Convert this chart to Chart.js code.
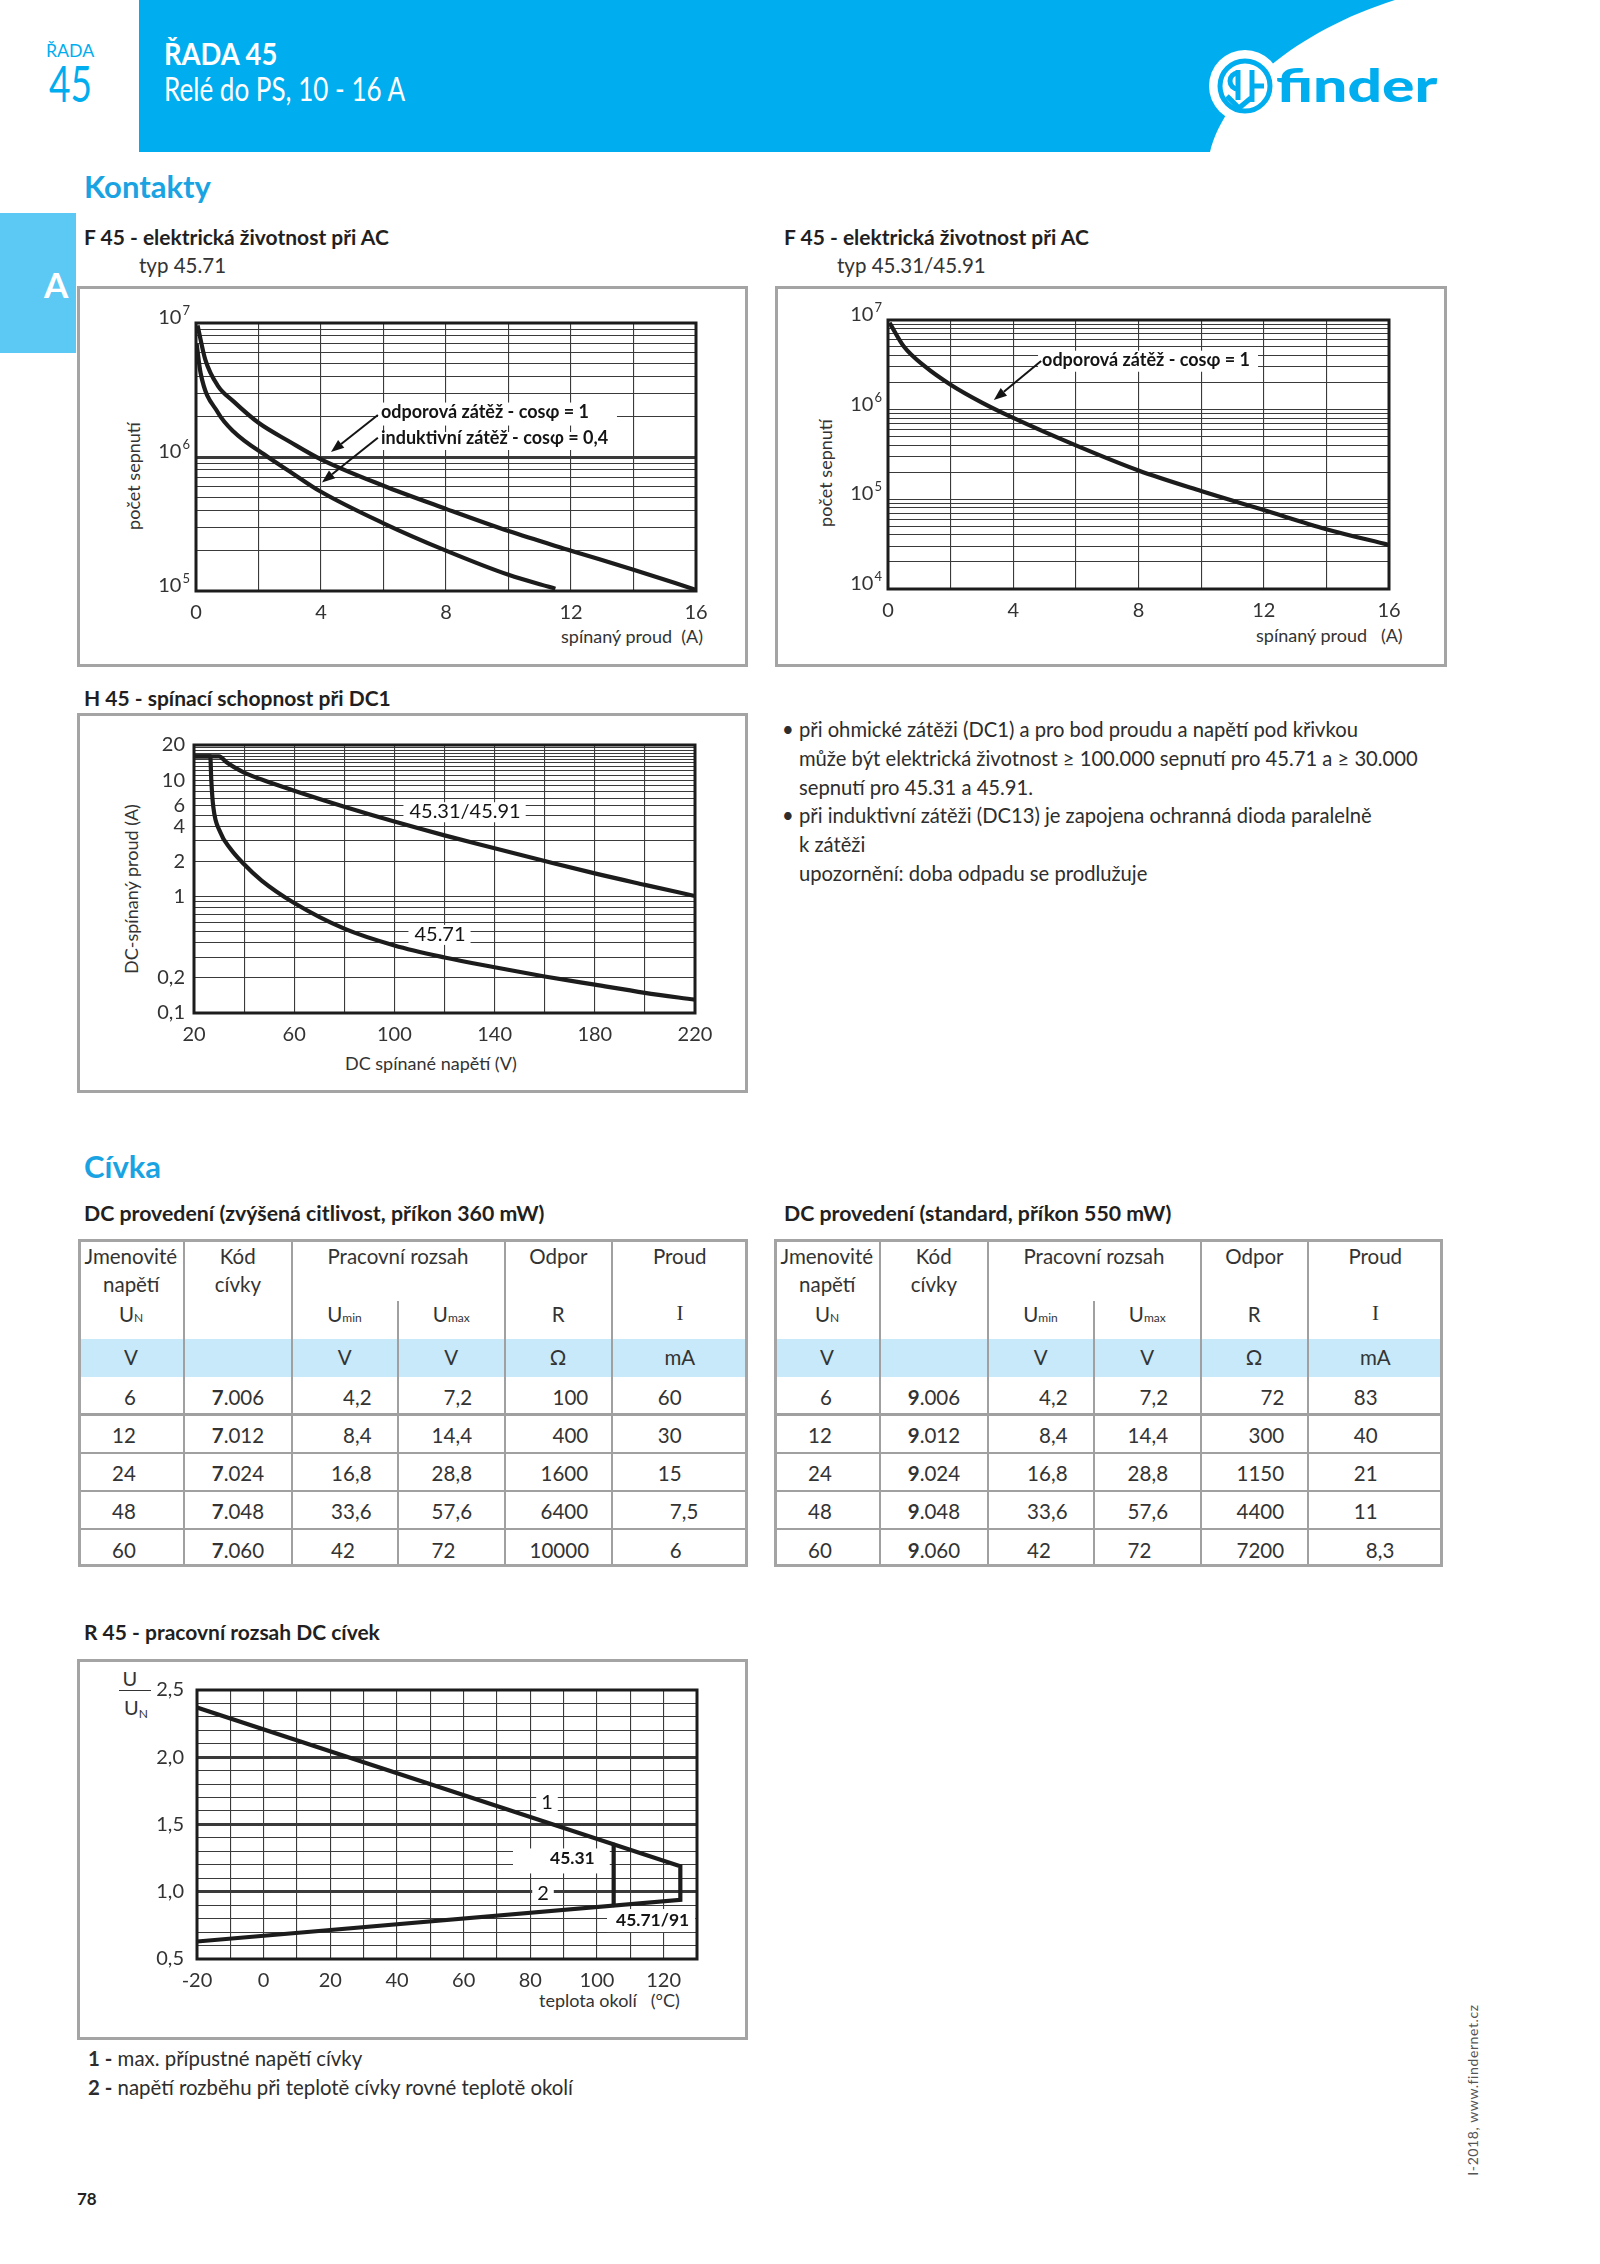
<!DOCTYPE html>
<html>
<head>
<meta charset="utf-8">
<script src="https://cdn.jsdelivr.net/npm/chart.js@4.4.1/dist/chart.umd.min.js"></script>
<style>
html, body { margin: 0; padding: 0; background: #fff; }
#page { position: relative; width: 1600px; height: 2264px; overflow: hidden; font-family: Lato, "Open Sans", sans-serif; color: #231f20; }
.t { position: absolute; white-space: nowrap; }
.box { position: absolute; border: 3px solid #a4a4a4; box-sizing: border-box; }
.ln { position: absolute; background: #a0a0a0; }
canvas { position: absolute; }
</style>
</head>
<body>
<div id="page">
  <svg width="1600" height="160" style="position:absolute;left:0;top:0">
    <path d="M139,0 H1395 C1300,30 1225,90 1210,152 H139 Z" fill="#00aeef"/>
    <circle cx="1245" cy="86" r="36" fill="#fff"/>
    <g fill="none" stroke="#00aeef" stroke-width="5" stroke-linecap="butt">
      <circle cx="1245" cy="86" r="25"/>
      <path d="M1238,70 V100"/>
      <path d="M1238,73 a8,8 0 0 0 0,16"/>
      <path d="M1227,96 L1239,108 L1251,98"/>
      <path d="M1252,70 V102"/>
      <path d="M1252,86 H1264"/>
    </g>
  </svg>
  <div style="position:absolute;left:0;top:213px;width:76px;height:140px;background:#5cc8f4"></div>
</div>
<script>
// F 45 - 45.71, resistive and inductive load
const f1ResCurrent = [0.05, 0.3, 0.7, 1.2, 2, 3, 4, 6, 8, 10, 12, 14, 16];
const f1ResLife = [9.6e6, 5.3e6, 3.4e6, 2.6e6, 1.8e6, 1.3e6, 9.6e5, 6.1e5, 4.1e5, 2.8e5, 2.0e5, 1.44e5, 1.02e5];
const f1IndCurrent = [0.02, 0.15, 0.7, 1.2, 2.3, 3, 4, 6, 8, 10, 11.5];
const f1IndLife = [7.0e6, 4.2e6, 2.15e6, 1.55e6, 1.0e6, 7.8e5, 5.5e5, 3.2e5, 2.0e5, 1.32e5, 1.04e5];
// F 45 - 45.31/45.91
const f2Current = [0.05, 0.5, 1.2, 2, 3, 4, 6, 8, 10, 12, 14, 16];
const f2Life = [9.3e6, 5.1e6, 3.0e6, 1.9e6, 1.2e6, 8.1e5, 4.0e5, 2.1e5, 1.24e5, 7.6e4, 4.65e4, 3.1e4];
// H 45 - DC1 breaking capacity
const h4531V = [20, 30, 33, 36, 40, 47, 60, 80, 100, 120, 140, 160, 180, 200, 220];
const h4531I = [16, 16, 14.2, 12.9, 11.6, 10.1, 8.1, 5.9, 4.4, 3.35, 2.6, 2.02, 1.58, 1.26, 1.01];
const h4571V = [20, 26.5, 26.9, 27.7, 30.4, 34.4, 39.7, 47, 60, 80, 100, 120, 140, 160, 180, 200, 220];
const h4571I = [16, 16, 10, 5.9, 3.6, 2.6, 1.92, 1.37, 0.88, 0.53, 0.38, 0.30, 0.247, 0.206, 0.175, 0.149, 0.13];
// R 45 - coil operating range
const r45Temp = [-20, 125];
const r45MaxU = [2.37, 1.19];
const r45PickU = [0.63, 0.94];
const r4531Temp = [105, 105];
const r4531U = [1.35, 0.90];

// tick labels
const f1XLabels = [0, 4, 8, 12, 16];
const f1YLabels = [1e5, 1e6, 1e7];
const f2YLabels = [1e4, 1e5, 1e6, 1e7];
const h45XLabels = [20, 60, 100, 140, 180, 220];
const h45YLabels = [0.1, 0.2, 1, 2, 4, 6, 10, 20];
const r45XLabels = [-20, 0, 20, 40, 60, 80, 100, 120];
const r45YLabels = [0.5, 1.0, 1.5, 2.0, 2.5];

// coil tables
const coilUn = ['6', '12', '24', '48', '60'];
const coilUmin = ['4,2', '8,4', '16,8', '33,6', '42'];
const coilUmax = ['7,2', '14,4', '28,8', '57,6', '72'];
const code360 = ['7.006', '7.012', '7.024', '7.048', '7.060'];
const res360 = ['100', '400', '1600', '6400', '10000'];
const cur360 = ['60', '30', '15', '7,5', '6'];
const code550 = ['9.006', '9.012', '9.024', '9.048', '9.060'];
const res550 = ['72', '300', '1150', '4400', '7200'];
const cur550 = ['83', '40', '21', '11', '8,3'];

const page = document.getElementById('page');
const INK = '#1c1c1c', GRID = '#3a3a3a', TICK = '#333', BLUE = '#00aeef', HEAD = '#1aa3e2';

function txt(x, base, size, html, o = {}) {
  const d = document.createElement('div');
  d.className = 't';
  d.innerHTML = html;
  d.style.fontSize = size + 'px';
  d.style.lineHeight = size + 'px';
  d.style.left = x + 'px';
  d.style.top = (base - 0.887 * size) + 'px';
  if (o.bold) d.style.fontWeight = o.bold === true ? 700 : o.bold;
  if (o.color) d.style.color = o.color;
  if (o.family) d.style.fontFamily = o.family;
  if (o.ls) d.style.letterSpacing = o.ls + 'px';
  page.appendChild(d);
  const sx = o.fit ? o.fit / d.offsetWidth : 1;
  const w = d.offsetWidth * sx;
  const dx = o.align === 'center' ? -w / 2 : o.align === 'right' ? -w : 0;
  d.style.transformOrigin = '0 0';
  d.style.transform = `translateX(${dx}px) scaleX(${sx})`;
  return d;
}
function vtxt(cx, cy, size, html, o = {}) {
  const d = document.createElement('div');
  d.className = 't';
  d.innerHTML = html;
  d.style.fontSize = size + 'px';
  d.style.lineHeight = size + 'px';
  d.style.left = cx + 'px';
  d.style.top = cy + 'px';
  d.style.color = o.color || '#333';
  if (o.ls) d.style.letterSpacing = o.ls + 'px';
  d.style.transform = 'translate(-50%,-50%) rotate(-90deg)';
  page.appendChild(d);
}
function rect(x, y, w, h, cls, bg) {
  const d = document.createElement('div');
  d.className = cls;
  Object.assign(d.style, { left: x + 'px', top: y + 'px', width: w + 'px', height: h + 'px' });
  if (bg) d.style.background = bg;
  page.appendChild(d);
}

// ---------- header ----------
txt(46, 57, 17, 'ŘADA', { color: BLUE, fit: 48 });
txt(49, 102, 50, '45', { color: BLUE, fit: 43 });
txt(164, 65, 31, 'ŘADA 45', { color: '#fff', bold: true, fit: 113 });
txt(164, 101, 32, 'Relé do PS, 10 - 16 A', { color: '#fff', fit: 241 });
txt(1276, 103, 46, 'finder', { color: BLUE, bold: 900, fit: 162 });
txt(56, 298, 35, 'A', { color: '#fff', bold: true, align: 'center' });
txt(84, 198, 31, 'Kontakty', { color: HEAD, bold: true });
txt(84, 1178, 31, 'Cívka', { color: HEAD, bold: true });

// ---------- titles ----------
txt(84, 245, 21, 'F 45 - elektrická životnost při AC', { bold: true });
txt(139, 273, 20.5, 'typ 45.71', { color: '#333' });
txt(784, 245, 21, 'F 45 - elektrická životnost při AC', { bold: true });
txt(837, 273, 20.5, 'typ 45.31/45.91', { color: '#333' });
txt(84, 706, 21, 'H 45 - spínací schopnost při DC1', { bold: true });
txt(84, 1222, 21.3, 'DC provedení (zvýšená citlivost, příkon 360 mW)', { bold: true });
txt(784, 1222, 21.3, 'DC provedení (standard, příkon 550 mW)', { bold: true });
txt(84, 1640, 21, 'R 45 - pracovní rozsah DC cívek', { bold: true });

rect(77, 286, 671, 381, 'box');
rect(775, 286, 672, 381, 'box');
rect(77, 713, 671, 380, 'box');
rect(77, 1659, 671, 381, 'box');

// ---------- notes ----------
const noteLines = [
  ['• ', 'při ohmické zátěži (DC1) a pro bod proudu a napětí pod křivkou'],
  ['', 'může být elektrická životnost ≥ 100.000 sepnutí pro 45.71 a ≥ 30.000'],
  ['', 'sepnutí pro 45.31 a 45.91.'],
  ['• ', 'při induktivní zátěži (DC13) je zapojena ochranná dioda paralelně'],
  ['', 'k zátěži'],
  ['', 'upozornění: doba odpadu se prodlužuje']
];
noteLines.forEach((l, i) => {
  const b = 737 + i * 28.8;
  if (l[0]) txt(782, b, 20.2, '•', { color: '#2d2d2d' });
  txt(799, b, 20.2, l[1], { color: '#2d2d2d' });
});
txt(88, 2066, 20.4, '<b>1 -</b> max. přípustné napětí cívky', { color: '#2d2d2d' });
txt(88, 2095, 20.4, '<b>2 -</b> napětí rozběhu při teplotě cívky rovné teplotě okolí', { color: '#2d2d2d' });
txt(77, 2205, 17, '78', { bold: true });
vtxt(1473, 2090, 14, 'I-2018, www.findernet.cz', { color: '#555', ls: 0.6 });

// ---------- axis titles ----------
vtxt(133, 476, 18, 'počet sepnutí');
vtxt(825, 473, 18, 'počet sepnutí');
vtxt(131, 889, 18, 'DC-spínaný proud (A)');
txt(703, 643, 18, 'spínaný proud&nbsp;&nbsp;(A)', { color: '#333', align: 'right' });
txt(1403, 642, 18, 'spínaný proud&nbsp;&nbsp;&nbsp;(A)', { color: '#333', align: 'right' });
txt(431, 1070, 18, 'DC spínané napětí (V)', { color: '#333', align: 'center' });
txt(680, 2007, 18, 'teplota okolí&nbsp;&nbsp;&nbsp;(°C)', { color: '#333', align: 'right' });
txt(130, 1686, 20, 'U', { color: '#333', align: 'center' });
rect(119, 1690, 32, 1, 'ln', '#333');
txt(124, 1715, 20, 'U<span style="font-size:12px;position:relative;top:3px">N</span>', { color: '#333' });

// ---------- tables ----------
function coilTable(left, top, width, codes, res, cur) {
  const cl = [0, 106, 213.5, 320, 426.6, 533.8, width];
  const H = 328;
  rect(left, top + 100, width, 37.5, 'ln', '#c7e9f9');
  [1, 2, 4, 5].forEach(k => rect(left + cl[k] - 1, top, 2, H, 'ln'));
  rect(left + cl[3] - 1, top + 61.6, 2, H - 61.6, 'ln');
  [175.5, 214, 252, 290].forEach(y => rect(left, top + y - 1.25, width, 2.5, 'ln'));
  rect(left, top, width, H, 'box');
  const mid = k => left + (cl[k] + cl[k + 1]) / 2;
  const c = { color: '#333' };
  const fs = 20.5;
  txt(mid(0), top + 25, fs, 'Jmenovité', { ...c, align: 'center' });
  txt(mid(0), top + 53, fs, 'napětí', { ...c, align: 'center' });
  txt(mid(0), top + 83, fs, 'U<span style="font-size:12px">N</span>', { ...c, align: 'center' });
  txt(mid(1), top + 25, fs, 'Kód', { ...c, align: 'center' });
  txt(mid(1), top + 53, fs, 'cívky', { ...c, align: 'center' });
  txt(left + cl[3], top + 25, fs, 'Pracovní rozsah', { ...c, align: 'center' });
  txt(mid(2), top + 83, fs, 'U<span style="font-size:12px">min</span>', { ...c, align: 'center' });
  txt(mid(3), top + 83, fs, 'U<span style="font-size:12px">max</span>', { ...c, align: 'center' });
  txt(mid(4), top + 25, fs, 'Odpor', { ...c, align: 'center' });
  txt(mid(4), top + 83, fs, 'R', { ...c, align: 'center' });
  txt(mid(5), top + 25, fs, 'Proud', { ...c, align: 'center' });
  txt(mid(5), top + 83, 21, 'I', { ...c, align: 'center', family: '"Liberation Serif", serif' });
  ['V', '', 'V', 'V', 'Ω', 'mA'].forEach((u, k) => { if (u) txt(mid(k), top + 126.5, fs, u, { ...c, align: 'center' }); });
  const dec = (x, b, s) => {
    const [a, f] = s.split(',');
    txt(x, b, fs, a, { ...c, align: 'right' });
    if (f !== undefined) txt(x, b, fs, ',' + f, c);
  };
  [166, 204, 242, 280, 319].forEach((b, r) => {
    const y = top + b;
    txt(left + cl[0] + 58, y, fs, coilUn[r], { ...c, align: 'right' });
    txt(mid(1), y, fs, '<b>' + codes[r][0] + '</b>' + codes[r].slice(1), { ...c, align: 'center' });
    dec(left + cl[2] + 63.5, y, coilUmin[r]);
    dec(left + cl[3] + 57.5, y, coilUmax[r]);
    txt(left + cl[4] + 84, y, fs, res[r], { ...c, align: 'right' });
    dec(left + cl[5] + 70, y, cur[r]);
  });
}
coilTable(78, 1239, 670, code360, res360, cur360);
coilTable(774, 1239, 669, code550, res550, cur550);

// ---------- charts ----------
const near = (a, b) => Math.abs(a - b) <= Math.abs(b) * 1e-6 + 1e-9;
const fmtComma = v => String(v).replace('.', ',');

function deco(o) {
  return {
    id: 'deco',
    beforeDatasetsDraw(chart) {
      const { ctx, chartArea: a, scales: { x, y } } = chart;
      ctx.save();
      ctx.fillStyle = '#fff';
      (o.notes || []).forEach(n => {
        ctx.font = n.font;
        const w = ctx.measureText(n.text).width;
        const px = x.getPixelForValue(n.x), py = y.getPixelForValue(n.y);
        const l = n.align === 'center' ? px - w / 2 : px;
        const [pl, pr, pt, pb] = n.pad;
        ctx.fillRect(l - pl, py - pt, w + pl + pr, pt + pb);
      });
      ctx.strokeStyle = INK;
      ctx.lineWidth = 3;
      ctx.strokeRect(a.left, a.top, a.right - a.left, a.bottom - a.top);
      ctx.restore();
    },
    afterDatasetsDraw(chart) {
      const { ctx, chartArea: a, scales: { x, y } } = chart;
      ctx.save();
      ctx.textBaseline = 'alphabetic';
      ctx.fillStyle = '#141414';
      (o.notes || []).forEach(n => {
        ctx.font = n.font;
        ctx.textAlign = n.align === 'center' ? 'center' : 'left';
        ctx.fillText(n.text, x.getPixelForValue(n.x), y.getPixelForValue(n.y));
      });
      ctx.strokeStyle = '#141414';
      (o.arrows || []).forEach(([x0, y0, x1, y1]) => {
        const ax = x.getPixelForValue(x0), ay = y.getPixelForValue(y0);
        const bx = x.getPixelForValue(x1), by = y.getPixelForValue(y1);
        const g = Math.atan2(by - ay, bx - ax), hl = 13, hw = 5;
        const cx = bx - hl * Math.cos(g), cy = by - hl * Math.sin(g);
        ctx.lineWidth = 2;
        ctx.beginPath(); ctx.moveTo(ax, ay); ctx.lineTo(cx, cy); ctx.stroke();
        ctx.beginPath();
        ctx.moveTo(bx, by);
        ctx.lineTo(cx + hw * Math.sin(g), cy - hw * Math.cos(g));
        ctx.lineTo(cx - hw * Math.sin(g), cy + hw * Math.cos(g));
        ctx.closePath(); ctx.fill();
      });
      if (o.powLabels) {
        ctx.fillStyle = TICK;
        ctx.textAlign = 'right';
        o.powLabels.forEach(v => {
          const py = y.getPixelForValue(v) + 1, right = a.left - 6;
          const e = String(Math.round(Math.log10(v)));
          ctx.font = '13px Lato';
          const ew = ctx.measureText(e).width;
          ctx.fillText(e, right, py - 9);
          ctx.font = '20px Lato';
          ctx.fillText('10', right - ew - 1, py);
        });
      }
      ctx.restore();
    }
  };
}

function linAxis(min, max, step, labels, fmt, thick, pad) {
  return {
    type: 'linear', min, max,
    ticks: {
      stepSize: step, autoSkip: false, maxRotation: 0, minRotation: 0, padding: pad,
      color: TICK, font: { family: 'Lato', size: 20 },
      callback: v => labels.some(l => near(v, l)) ? fmt(v) : ''
    },
    grid: { color: GRID, drawTicks: false, lineWidth: c => (c.tick && thick.some(t => near(c.tick.value, t)) ? 3 : 1.1) },
    border: { display: false }
  };
}
function logAxis(min, max, gridVals, labels, fmt, thick, pad, show) {
  return {
    type: 'logarithmic', min, max,
    afterBuildTicks: s => { s.ticks = gridVals.map(v => ({ value: v })); },
    ticks: {
      display: show, autoSkip: false, padding: pad,
      color: TICK, font: { family: 'Lato', size: 20 },
      callback: v => labels.some(l => near(v, l)) ? fmt(v) : ''
    },
    grid: { color: GRID, drawTicks: false, lineWidth: c => (c.tick && thick.some(t => near(c.tick.value, t)) ? 3 : 1.1) },
    border: { display: false }
  };
}
function decades(lo, hi) {
  const out = [];
  for (let e = lo; e < hi; e++) for (let k = 1; k <= 9; k++) out.push(k * Math.pow(10, e));
  out.push(Math.pow(10, hi));
  return out;
}
const curve = (xs, ys, more = {}) => ({
  data: xs.map((x, i) => ({ x, y: ys[i] })),
  borderColor: INK, borderWidth: 4.2, pointRadius: 0, fill: false,
  cubicInterpolationMode: 'monotone', borderJoinStyle: 'round', ...more
});

function makeChart(frame, plot, xs, ys, datasets, extra) {
  const cv = document.createElement('canvas');
  cv.width = frame.w; cv.height = frame.h;
  cv.style.left = frame.x + 'px'; cv.style.top = frame.y + 'px';
  page.appendChild(cv);
  const yW = plot.l - frame.x, xH = frame.y + frame.h - plot.b;
  xs.afterFit = s => { s.height = xH; };
  ys.afterFit = s => { s.width = yW; };
  return new Chart(cv, {
    type: 'line',
    data: { datasets },
    options: {
      responsive: false, animation: false, devicePixelRatio: 1,
      layout: { padding: { top: plot.t - frame.y, right: frame.x + frame.w - plot.r, left: 0, bottom: 0 } },
      plugins: { legend: { display: false }, tooltip: { enabled: false } },
      scales: { x: xs, y: ys }
    },
    plugins: [deco(extra)]
  });
}

const noteFont = 'bold 18px Lato';
const smallBold = 'bold 17.5px Lato';

makeChart({ x: 80, y: 289, w: 665, h: 375 }, { l: 196, t: 323, r: 696, b: 591 },
  linAxis(0, 16, 2, f1XLabels, String, [], 10),
  logAxis(1e5, 1e7, decades(5, 7), [], String, [1e6], 0, false),
  [curve(f1ResCurrent, f1ResLife), curve(f1IndCurrent, f1IndLife)],
  {
    powLabels: f1YLabels,
    notes: [
      { x: 5.92, y: 1.97e6, text: 'odporová zátěž - cosφ = 1', font: noteFont, pad: [3, 28, 15, 8] },
      { x: 5.92, y: 1.25e6, text: 'induktivní zátěž - cosφ = 0,4', font: noteFont, pad: [3, 8, 12, 6] }
    ],
    arrows: [[5.82, 2.06e6, 4.32, 1.09e6], [5.82, 1.39e6, 4.03, 6.46e5]]
  });

makeChart({ x: 778, y: 289, w: 666, h: 375 }, { l: 888, t: 320, r: 1389, b: 589 },
  linAxis(0, 16, 2, f1XLabels, String, [], 10),
  logAxis(1e4, 1e7, decades(4, 7), [], String, [], 0, false),
  [curve(f2Current, f2Life)],
  {
    powLabels: f2YLabels,
    notes: [{ x: 4.92, y: 3.09e6, text: 'odporová zátěž - cosφ = 1', font: noteFont, pad: [4, 8, 15, 6] }],
    arrows: [[4.89, 3.49e6, 3.38, 1.28e6]]
  });

const h45Grid = [];
for (let k = 1; k <= 9; k++) h45Grid.push(k / 10);
for (let k = 1; k <= 9; k++) h45Grid.push(k);
for (let k = 10; k <= 20; k++) h45Grid.push(k);
makeChart({ x: 80, y: 716, w: 665, h: 374 }, { l: 194, t: 745, r: 695, b: 1013 },
  linAxis(20, 220, 20, h45XLabels, String, [], 10),
  logAxis(0.1, 20, h45Grid, h45YLabels, fmtComma, [], 9, true),
  [curve(h4531V, h4531I), curve(h4571V, h4571I)],
  {
    notes: [
      { x: 106, y: 4.7, text: '45.31/45.91', font: '20px Lato', pad: [6, 5, 16, 4] },
      { x: 108, y: 0.416, text: '45.71', font: '20px Lato', pad: [6, 5, 16, 4] }
    ]
  });

const outlineT = [...r45Temp, ...r45Temp.slice().reverse()];
const outlineU = [...r45MaxU, ...r45PickU.slice().reverse()];
makeChart({ x: 80, y: 1662, w: 665, h: 375 }, { l: 197, t: 1690, r: 697, b: 1959 },
  linAxis(-20, 130, 10, r45XLabels, String, [], 10),
  linAxis(0.5, 2.5, 0.1, r45YLabels, v => v.toFixed(1).replace('.', ','), [1.0, 1.5, 2.0], 13),
  [
    curve(outlineT, outlineU, { cubicInterpolationMode: 'default', tension: 0, borderJoinStyle: 'miter' }),
    curve(r4531Temp, r4531U, { cubicInterpolationMode: 'default', tension: 0 })
  ],
  {
    notes: [
      { x: 85, y: 1.615, text: '1', font: '20px Lato', align: 'center', pad: [5, 5, 17, 3] },
      { x: 83.8, y: 0.939, text: '2', font: '20px Lato', align: 'center', pad: [5, 5, 17, 3] },
      { x: 85.9, y: 1.203, text: '45.31', font: smallBold, pad: [37, 15, 16, 9] },
      { x: 105.7, y: 0.745, text: '45.71/91', font: smallBold, pad: [9, 6, 17, 6] }
    ]
  });
</script>
</body>
</html>
